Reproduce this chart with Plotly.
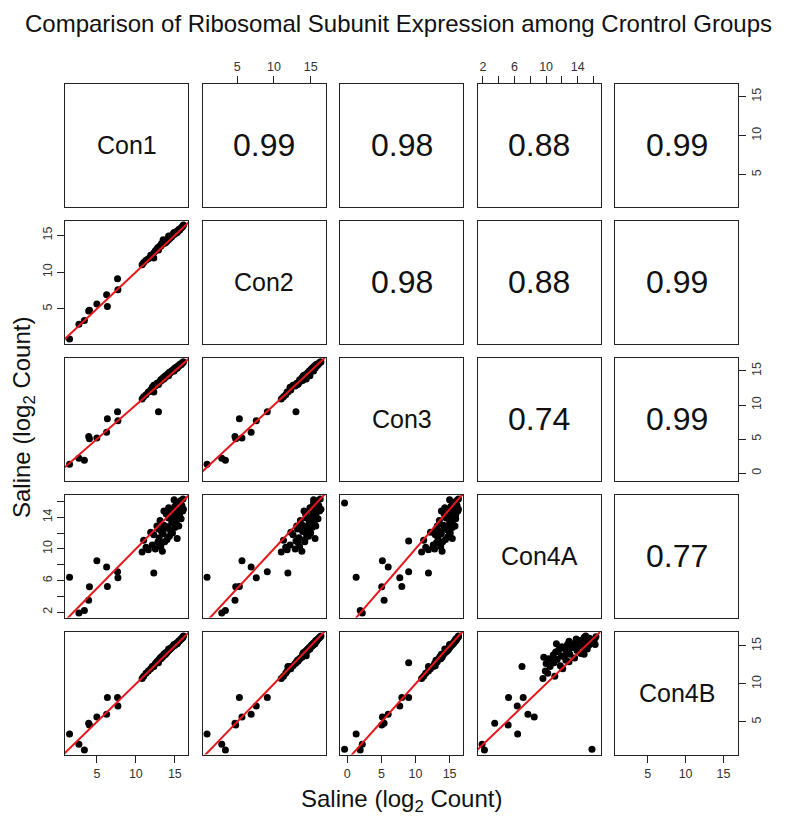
import plotly.graph_objects as go

# ---------------- data (log2 counts per ribosomal gene) ----------------
names = ["Con1", "Con2", "Con3", "Con4A", "Con4B"]

con1 = [1.5, 2.7, 3.4, 3.95, 4.05, 5.0, 6.25, 6.35, 7.65, 7.7, None, 12.9, 12.3,
        10.8, 11.0, 11.3, 11.6, 11.9, 12.1, 12.3, 12.5, 12.7, 12.8, 13.0, 13.1, 13.2, 13.3,
        13.4, 13.5, 13.6, 13.7, 13.8, 13.9, 14.0, 14.1, 14.2, 14.3, 14.4, 14.5, 14.6, 14.7,
        14.8, 14.9, 15.0, 15.0, 15.1, 15.2, 15.3, 15.4, 15.5, 15.5, 15.6, 15.7, 15.8, 15.9,
        16.0, 16.05, 16.1, 14.2, 13.6, 14.9, 12.9, 15.3]
con2 = [0.9, 2.9, 3.4, 4.7, 4.8, 5.65, 6.9, 5.3, 9.1, 7.6, None, 13.0, 11.9,
        11.0, 11.3, 11.6, 11.8, 12.3, 12.2, 12.6, 12.9, 13.1, 13.3, 13.4, 13.6, 13.5, 13.9,
        13.8, 14.4, 13.9, 14.2, 14.0, 14.3, 14.2, 14.5, 14.4, 14.7, 14.6, 14.9, 14.8, 15.0,
        15.2, 15.1, 15.3, 15.2, 15.4, 15.5, 15.4, 15.6, 15.7, 15.8, 15.7, 15.9, 16.0, 16.1,
        16.2, 16.3, 16.4, 14.9, 14.1, 15.4, 13.2, 15.6]
con3 = [1.3, 2.2, 1.9, 5.4, 5.05, 5.15, 6.0, 8.0, 9.0, 7.7, -0.4, 9.0, 11.9,
        10.9, 11.2, 11.5, 11.9, 12.2, 12.6, 12.9, 12.8, 13.2, 13.1, 13.3, 13.5, 13.7, 13.6,
        13.9, 13.8, 14.1, 14.0, 14.3, 14.2, 14.4, 14.6, 14.5, 14.8, 14.7, 14.9, 15.0, 15.1,
        15.0, 15.3, 15.2, 15.4, 15.5, 15.4, 15.6, 15.7, 15.8, 15.7, 15.9, 16.0, 15.9, 16.1,
        16.2, 16.3, 16.3, 14.3, 13.8, 15.0, 13.0, 15.4]
con4a = [6.4, 1.9, 2.2, 3.5, 5.2, 8.5, 7.7, 5.25, 7.1, 6.35, 15.8, 11.0, 6.95,
         9.6, 11.1, 10.2, 9.9, 12.1, 10.5, 11.8, 10.0, 12.9, 10.8, 11.4, 13.6, 10.3, 12.2,
         9.7, 11.9, 13.0, 10.9, 12.6, 14.4, 11.2, 12.8, 13.9, 11.6, 12.4, 14.9, 13.3, 12.0,
         14.1, 13.5, 15.4, 12.7, 14.6, 13.2, 15.8, 14.0, 12.9, 15.1, 14.3, 16.1, 13.8, 15.5,
         14.8, 16.3, 15.0, 15.2, 14.8, 16.2, 12.5, 11.3]
con4b = [3.4, 2.05, 1.3, 4.8, 4.6, 5.65, 6.0, 8.2, 8.2, 7.1, 1.4, 12.8, 12.3,
         10.7, 11.0, 11.4, 11.7, 12.0, 12.3, 12.4, 12.7, 12.9, 13.0, 13.2, 13.4, 13.3, 13.6,
         13.5, 13.7, 13.9, 13.8, 14.1, 14.0, 14.2, 14.3, 14.4, 14.5, 14.6, 14.7, 14.8, 14.9,
         15.0, 15.1, 15.1, 15.2, 15.3, 15.3, 15.4, 15.5, 15.6, 15.6, 15.7, 15.8, 15.9, 16.0,
         16.1, 16.2, 16.3, 14.6, 13.9, 15.2, 13.1, 15.3]

# correlation labels shown in the upper panels (row, col, text)
corr_rows = [0, 0, 0, 0, 1, 1, 1, 2, 2, 3]
corr_cols = [1, 2, 3, 4, 2, 3, 4, 3, 4, 4]
corr_text = ["0.99", "0.98", "0.88", "0.99", "0.98", "0.88", "0.99", "0.74", "0.99", "0.77"]

# axis ticks per variable (labelled ticks, and unlabelled in-between ticks)
tick_vals = [[5, 10, 15], [5, 10, 15], [0, 5, 10, 15], [2, 6, 10, 14], [5, 10, 15]]
tick_text = [["5", "10", "15"], ["5", "10", "15"], ["0", "5", "10", "15"],
             ["2", "6", "10", "14"], ["5", "10", "15"]]
minor_vals = [[], [], [], [4, 8, 12, 16], []]

title_text = "Comparison of Ribosomal Subunit Expression among Crontrol Groups"
axis_title = "Saline (log<sub>2</sub> Count)"

# ---------------- layout geometry (page pixels of the target) ----------------
OFF = 8                      # default page margin of the html body
W, H = 793 - OFF, 821 - OFF  # figure size so that the figure fills the window
col_left = [65, 202.5, 340, 477.5, 615]
row_top = [83.5, 220.5, 357.5, 494.5, 631.5]
PW, PH = 123, 123
FONT = "Liberation Sans, Arial, sans-serif"


def px(xp):
    return (xp - OFF) / W


def py(yp):
    return 1 - (yp - OFF) / H


values = [con1, con2, con3, con4a, con4b]


def data_range(v):
    vals = [a for a in v if a is not None]
    lo, hi = min(vals), max(vals)
    pad = 0.04 * (hi - lo)
    return [lo - pad, hi + pad]


ranges = [data_range(v) for v in values]

fig = go.Figure()
layout = dict(width=W, height=H, margin=dict(l=0, r=0, t=0, b=0),
              paper_bgcolor="white", plot_bgcolor="white", showlegend=False,
              font=dict(family=FONT, color="#111"))
annotations = []

lo_all = min(r[0] for r in ranges)
hi_all = max(r[1] for r in ranges)


def minor_spec(idx, show):
    if show and minor_vals[idx]:
        return dict(tickmode="array", tickvals=minor_vals[idx], ticks="outside",
                    ticklen=7, tickcolor="#222", tickwidth=1, showgrid=False)
    return dict(ticks="", showgrid=False)


for i in range(5):
    for j in range(5):
        k = i * 5 + j + 1
        xa = "xaxis" if k == 1 else f"xaxis{k}"
        ya = "yaxis" if k == 1 else f"yaxis{k}"
        xr = "x" if k == 1 else f"x{k}"
        yr = "y" if k == 1 else f"y{k}"
        x0 = px(col_left[j])
        x1 = px(col_left[j] + PW)
        y1 = py(row_top[i])
        y0 = py(row_top[i] + PH)

        # x ticks: top on row 0 for cols 1,3 ; bottom on row 4 for cols 0,2,4
        show_x = (i == 0 and j in (1, 3)) or (i == 4 and j in (0, 2, 4))
        xside = "top" if i == 0 else "bottom"
        show_y = (j == 0 and i in (1, 3)) or (j == 4 and i in (0, 2, 4))
        yside = "left" if j == 0 else "right"

        layout[xa] = dict(domain=[x0, x1], anchor=yr, range=ranges[j],
                          showgrid=False, zeroline=False, showline=True, mirror=True,
                          linecolor="#222", linewidth=1,
                          side=xside,
                          ticks="outside" if show_x else "",
                          ticklen=7, tickcolor="#222", tickwidth=1,
                          showticklabels=show_x,
                          tickmode="array", tickvals=tick_vals[j], ticktext=tick_text[j],
                          minor=minor_spec(j, show_x),
                          tickfont=dict(size=12.5, color="#333", family=FONT))
        layout[ya] = dict(domain=[y0, y1], anchor=xr, range=ranges[i],
                          showgrid=False, zeroline=False, showline=True, mirror=True,
                          linecolor="#222", linewidth=1,
                          side=yside,
                          ticks="outside" if show_y else "",
                          ticklen=7, tickcolor="#222", tickwidth=1,
                          showticklabels=show_y, tickangle=-90,
                          tickmode="array", tickvals=tick_vals[i], ticktext=tick_text[i],
                          minor=minor_spec(i, show_y),
                          tickfont=dict(size=12.5, color="#333", family=FONT))

        cx = (x0 + x1) / 2
        cy = (y0 + y1) / 2
        if i > j:
            fig.add_trace(go.Scatter(x=values[j], y=values[i], mode="markers",
                                     marker=dict(color="black", size=7),
                                     xaxis=xr, yaxis=yr, hoverinfo="skip"))
            fig.add_trace(go.Scatter(x=[lo_all, hi_all], y=[lo_all, hi_all], mode="lines",
                                     line=dict(color="#e8161b", width=2),
                                     xaxis=xr, yaxis=yr, hoverinfo="skip"))
        else:
            # empty trace so that the panel frame is drawn
            fig.add_trace(go.Scatter(x=[], y=[], mode="markers",
                                     xaxis=xr, yaxis=yr, hoverinfo="skip"))
            if i == j:
                annotations.append(dict(x=cx, y=cy, xref="paper", yref="paper",
                                        xanchor="center", yanchor="middle",
                                        text=names[i], showarrow=False,
                                        font=dict(size=25, color="#111", family=FONT)))

for r, c, t in zip(corr_rows, corr_cols, corr_text):
    x0 = px(col_left[c])
    x1 = px(col_left[c] + PW)
    y1 = py(row_top[r])
    y0 = py(row_top[r] + PH)
    annotations.append(dict(x=(x0 + x1) / 2, y=(y0 + y1) / 2, xref="paper", yref="paper",
                            xanchor="center", yanchor="middle",
                            text=t, showarrow=False,
                            font=dict(size=32, color="#111", family=FONT)))

annotations.append(dict(x=px(398), y=py(24), xref="paper", yref="paper",
                        xanchor="center", yanchor="middle",
                        text=title_text, showarrow=False,
                        font=dict(size=24, color="#111", family=FONT)))
annotations.append(dict(x=px(401), y=py(800), xref="paper", yref="paper",
                        xanchor="center", yanchor="middle",
                        text=axis_title, showarrow=False,
                        font=dict(size=24, color="#111", family=FONT)))
annotations.append(dict(x=px(23), y=py(418), xref="paper", yref="paper",
                        xanchor="center", yanchor="middle",
                        text=axis_title, showarrow=False, textangle=-90,
                        font=dict(size=24, color="#111", family=FONT)))

layout["annotations"] = annotations
fig.update_layout(**layout)
fig.write_html("out.html")
